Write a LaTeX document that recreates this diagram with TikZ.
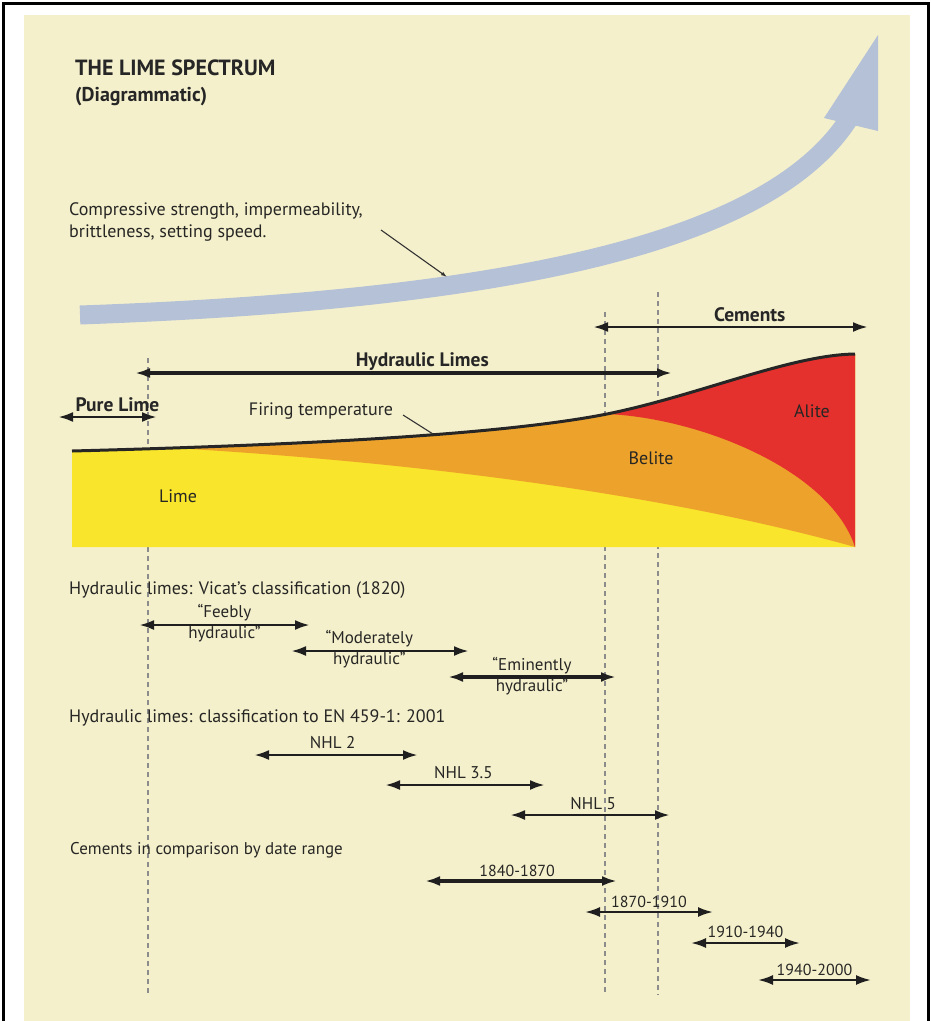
\documentclass[tikz,border=0pt]{standalone}
\usepackage{fontspec}
\setsansfont{PT Sans}
\usetikzlibrary{arrows.meta,positioning}

\definecolor{cream}{RGB}{245,240,204}
\definecolor{bandblue}{RGB}{180,193,214}
\definecolor{limeyel}{RGB}{249,229,43}
\definecolor{beliteor}{RGB}{237,162,43}
\definecolor{alitered}{RGB}{229,49,45}
\definecolor{ink}{RGB}{38,38,36}

\tikzset{
  span/.style={{Latex[length=15pt,width=10pt]}-{Latex[length=15pt,width=10pt]},
               line width=2.8pt, draw=black!88},
  spanbold/.style={span, line width=4pt},
  spanthin/.style={span, line width=2.2pt},
  guide/.style={dash pattern=on 5pt off 4pt, draw=black!45, line width=1.2pt},
  pointer/.style={draw=black!80, line width=1.1pt},
  heading/.style={font=\sffamily\fontsize{18}{22}\selectfont, text=ink,
                  anchor=west, inner sep=0pt},
  tag/.style={font=\sffamily\fontsize{17}{19}\selectfont, text=ink, inner sep=0pt},
  datetag/.style={tag, font=\sffamily\fontsize{16}{18}\selectfont},
  boldtag/.style={font=\sffamily\bfseries\fontsize{19.5}{22}\selectfont,
                  text=black!85, inner sep=0pt},
}

\begin{document}
\begin{tikzpicture}[x=1pt, y=-1pt]
    \useasboundingbox (0,0) rectangle (931,1021);
    % Frame and background
    \fill[cream] (24,15) rectangle (910,1021);
    \draw[line width=3pt] (3,1030) -- (3,3) -- (928,3) -- (928,1030);

    % Title
    \node[anchor=west,
          inner sep=0pt,
          text=black!85,
          font=\sffamily\bfseries\fontsize{22}{24}\selectfont] (title) at (75,68) {THE LIME SPECTRUM};
    \node[anchor=west,
          inner sep=0pt,
          text=black!85,
          font=\sffamily\bfseries\fontsize{20}{24}\selectfont] (sub) at (75,97) {(Diagrammatic)};

    % Rising band
    \draw[bandblue, line width=19pt] (80,315) .. controls (500,300) and (770,245) .. (850,117);
    \fill[bandblue] (878,35) -- (824,118) -- (878,131) -- cycle;
    \node[heading, align=left] (prop) at (69,222) {Compressive strength, impermeability,\\brittleness, setting speed.};
    \coordinate (prop-end) at (381,230);
    \coordinate (band-top) at (447,277);
    \draw[pointer, -{Latex[length=6pt,width=4pt]}] (prop-end) -- (band-top);

    % Guide lines
    \draw[guide] (148,358) -- (148,995);
    \draw[guide] (605,312) -- (605,995);
    \draw[guide] (658,292) -- (658,995);

    % Lime, belite and alite bands
    \begin{scope}
        \clip (72,451) .. controls (300,445) and (500,435) .. (607,414)
              .. controls (700,395) and (790,355) .. (855,354) -- (855,547) -- (72,547) -- cycle;
        \fill[limeyel] (60,300) rectangle (860,560);
        \fill[beliteor] (190,449) .. controls (400,462) and (650,490) .. (855,547)
              -- (860,547) -- (860,300) -- (190,300) -- cycle;
        \fill[alitered] (607,414) .. controls (700,418) and (830,470) .. (855,547)
              -- (860,547) -- (860,300) -- (607,300) -- cycle;
    \end{scope}
    \draw[line width=3pt, black!85] (72,451) .. controls (300,445) and (500,435) .. (607,414)
          .. controls (700,395) and (790,355) .. (855,354);
    \node[tag, font=\sffamily\fontsize{18}{20}\selectfont] (lime) at (178,496) {Lime};
    \node[tag, font=\sffamily\fontsize{18}{20}\selectfont] (belite) at (651,458) {Belite};
    \node[tag, font=\sffamily\fontsize{18}{20}\selectfont] (alite) at (812,411) {Alite};
    \node[tag, font=\sffamily\fontsize{18}{20}\selectfont] (firing) at (321,411) {Firing temperature};
    \coordinate (fire-a) at (403,415);
    \coordinate (fire-b) at (433,434);
    \draw[pointer] (fire-a) -- (fire-b);

    % Main ranges
    \coordinate (pl-l) at (58,417);  \coordinate (pl-r) at (157,417);
    \coordinate (hl-l) at (135,373); \coordinate (hl-r) at (672,373);
    \coordinate (ce-l) at (593,327); \coordinate (ce-r) at (868,327);
    \draw[span] (pl-l) -- node[boldtag, pos=.6, yshift=12pt] (pure) {Pure Lime} (pl-r);
    \draw[spanbold] (hl-l) -- node[boldtag, pos=.535, yshift=11pt] (hydr) {Hydraulic Limes} (hl-r);
    \draw[span] (ce-l) -- node[boldtag, pos=.57, yshift=12pt] (cem) {Cements} (ce-r);

    % Vicat's classification
    \node[heading] (vicat) at (69,590) {Hydraulic limes: Vicat’s classification (1820)};
    \coordinate (fe-l) at (139,625); \coordinate (fe-r) at (310,625);
    \coordinate (mo-l) at (291,651); \coordinate (mo-r) at (469,651);
    \coordinate (em-l) at (448,677); \coordinate (em-r) at (616,677);
    \draw[span] (fe-l) -- node[tag, yshift=12pt] (fe-a) {“Feebly}
                           node[tag, yshift=-9pt] (fe-b) {hydraulic”} (fe-r);
    \draw[span] (mo-l) -- node[tag, pos=.44, yshift=12pt] (mo-a) {“Moderately}
                           node[tag, pos=.44, yshift=-9pt] (mo-b) {hydraulic”} (mo-r);
    \draw[spanbold] (em-l) -- node[tag, yshift=11pt] (em-a) {“Eminently}
                           node[tag, yshift=-10pt] (em-b) {hydraulic”} (em-r);

    % EN 459-1 classification
    \node[heading] (en) at (69,718) {Hydraulic limes: classification to EN 459-1: 2001};
    \coordinate (n2-l) at (254,755); \coordinate (n2-r) at (418,755);
    \coordinate (n3-l) at (385,785); \coordinate (n3-r) at (545,785);
    \coordinate (n5-l) at (510,815); \coordinate (n5-r) at (670,815);
    \draw[span] (n2-l) -- node[tag, pos=.48, yshift=12pt] (nhl2) {NHL 2} (n2-r);
    \draw[span] (n3-l) -- node[tag, pos=.49, yshift=12pt] (nhl3) {NHL 3.5} (n3-r);
    \draw[span] (n5-l) -- node[tag, pos=.52, yshift=11pt] (nhl5) {NHL 5} (n5-r);

    % Cements by date range
    \node[heading, font=\sffamily\fontsize{17}{20}\selectfont] (cmp) at (70,850) {Cements in comparison by date range};
    \coordinate (d1-l) at (425,881); \coordinate (d1-r) at (617,881);
    \coordinate (d2-l) at (585,912); \coordinate (d2-r) at (713,912);
    \coordinate (d3-l) at (691,943); \coordinate (d3-r) at (800,943);
    \coordinate (d4-l) at (758,980); \coordinate (d4-r) at (871,980);
    \draw[span, line width=3.2pt] (d1-l) -- node[datetag, pos=.48, yshift=10pt] (d1) {1840-1870} (d1-r);
    \draw[spanthin] (d2-l) -- node[datetag, yshift=10pt] (d2) {1870-1910} (d2-r);
    \draw[spanthin] (d3-l) -- node[datetag, yshift=11pt] (d3) {1910-1940} (d3-r);
    \draw[spanthin] (d4-l) -- node[datetag, yshift=10pt] (d4) {1940-2000} (d4-r);
\end{tikzpicture}
\end{document}
